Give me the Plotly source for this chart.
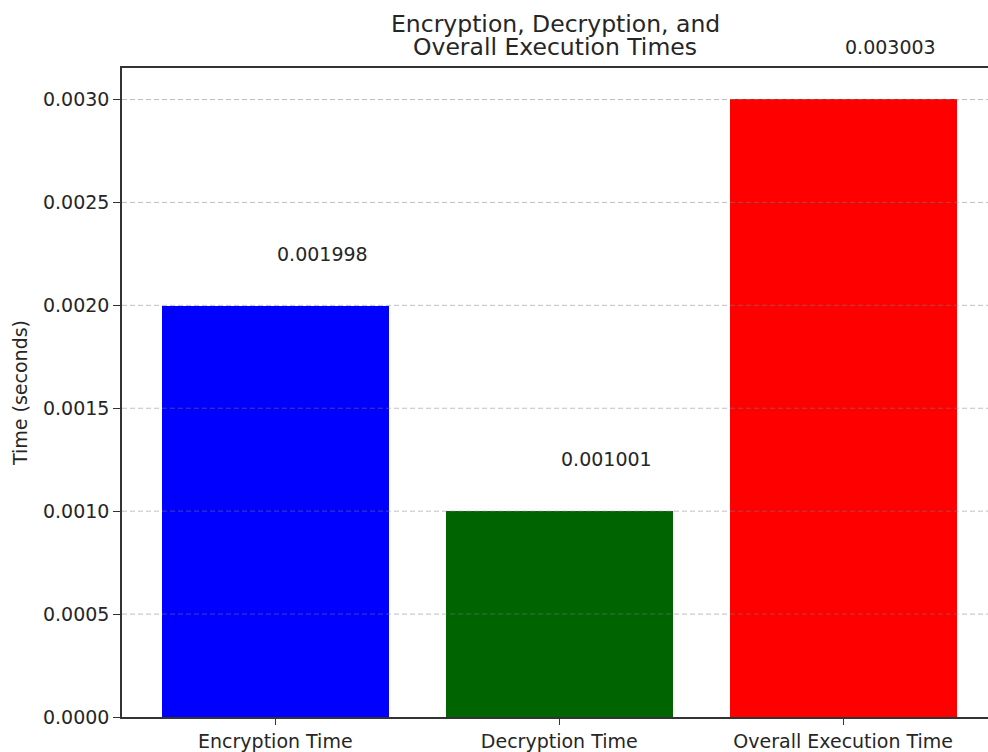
import plotly.graph_objects as go

# Measured timings (seconds)
categories = ["Encryption Time", "Decryption Time", "Overall Execution Time"]
times = [0.001998, 0.001001, 0.003003]
bar_colors = ["#0000ff", "#006400", "#ff0000"]

# y-axis ticks
y_ticks = [0.0, 0.0005, 0.0010, 0.0015, 0.0020, 0.0025, 0.0030]

# chart title, one entry per line
title_lines = ["Encryption, Decryption, and", "Overall Execution Times"]

FONT = "DejaVu Sans"
TXT = "#262626"
positions = list(range(len(categories)))

fig = go.Figure()
fig.add_trace(go.Bar(
    x=positions,
    y=times,
    width=0.8,
    marker=dict(color=bar_colors, line=dict(width=0)),
    hoverinfo="skip",
    showlegend=False,
))

# value labels: anchored at the bar top, left-aligned at the bar centre,
# lifted a fixed number of pixels above the bar
for xi, v in zip(positions, times):
    fig.add_annotation(
        x=xi, y=v, xref="x", yref="y",
        text=f"{v:.6f}", showarrow=False,
        xanchor="left", yanchor="middle", yshift=52,
        font=dict(family=FONT, size=19, color=TXT),
    )

# dashed horizontal grid drawn on top of the bars
for t in y_ticks[1:]:
    fig.add_shape(
        type="line", xref="paper", yref="y",
        x0=0, x1=1, y0=t, y1=t, layer="above",
        line=dict(color="rgba(128,128,128,0.5)", width=1, dash="5px,3px"),
    )

# two-line chart title above the plot area (tight line spacing)
for line, shift in zip(title_lines, [44, 21]):
    fig.add_annotation(
        text=line,
        xref="paper", yref="paper", x=0.5, y=1,
        xanchor="center", yanchor="middle", yshift=shift,
        showarrow=False,
        font=dict(family=FONT, size=23.5, color=TXT),
    )

fig.update_layout(
    width=988, height=752,
    margin=dict(l=122, r=0, t=68, b=33),
    paper_bgcolor="white", plot_bgcolor="white",
    font=dict(family=FONT, size=19, color=TXT),
    bargap=0,
)

fig.update_xaxes(
    range=[-0.54, 2.51],
    tickmode="array", tickvals=positions, ticktext=categories,
    showgrid=False, zeroline=False,
    showline=True, linecolor="#333333", linewidth=1.5, mirror=True,
    ticks="outside", ticklen=6, tickwidth=1.3, tickcolor="#333333",
    tickfont=dict(family=FONT, size=19, color=TXT),
)

fig.update_yaxes(
    range=[0, 0.003003 * 1.05],
    tickmode="array", tickvals=y_ticks, tickformat=".4f",
    showgrid=False, zeroline=False,
    showline=True, linecolor="#333333", linewidth=1.5,
    ticks="outside", ticklen=7, tickwidth=1.3, tickcolor="#333333",
    tickfont=dict(family=FONT, size=19, color=TXT),
    title=dict(text="Time (seconds)", standoff=10,
               font=dict(family=FONT, size=19, color=TXT)),
)

fig.write_html("out.html")
